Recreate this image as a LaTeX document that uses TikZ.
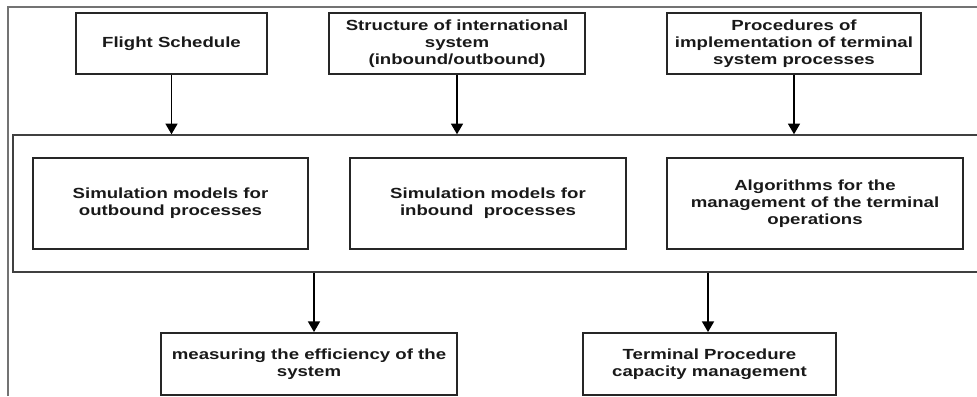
\documentclass[tikz,border=0pt]{standalone}
\usepackage{fontspec}
\setmainfont[FakeStretch=1.27]{Liberation Sans}
\usetikzlibrary{arrows.meta}
\begin{document}
\begin{tikzpicture}[x=0.75pt,y=-0.75pt,
  box/.style={draw=black!85, line width=1.4pt, align=center, inner sep=0pt,
    font=\fontsize{11}{12.75}\selectfont\bfseries, text=black!90},
  bigbox/.style={draw=black!75, line width=1.1pt, inner sep=0pt},
  arr/.style={-{Triangle[length=8pt,width=9pt]}, line width=1.2pt, draw=black}
]
\useasboundingbox (0,0) rectangle (977,396);
\clip (0,0) rectangle (977,396);
% outer frame (top and left edges)
\draw[black!55, line width=0.8pt] (8,396) -- (8,7) -- (990,7);
% big container
\node[bigbox, minimum width=977*0.75pt, minimum height=137*0.75pt] (main) at (501.5,203.5) {};
% top boxes
\node[box, minimum width=191*0.75pt, minimum height=61*0.75pt] (fs) at (171.5,43.5) {Flight Schedule};
\node[box, minimum width=256*0.75pt, minimum height=61*0.75pt] (st) at (457,43.5) {Structure of international\\system\\(inbound/outbound)};
\node[box, minimum width=254*0.75pt, minimum height=61*0.75pt] (pr) at (794,43.5) {Procedures of\\implementation of terminal\\system processes};
% inner boxes
\node[box, minimum width=275*0.75pt, minimum height=91*0.75pt] (so) at (170.5,203.5) {Simulation models for\\outbound processes};
\node[box, minimum width=276*0.75pt, minimum height=91*0.75pt] (si) at (488,203.5) {Simulation models for\\inbound~ processes};
\node[box, minimum width=296*0.75pt, minimum height=91*0.75pt] (al) at (815,203.5) {Algorithms for the\\management of the terminal\\operations};
% bottom boxes
\node[box, minimum width=296*0.75pt, minimum height=62*0.75pt] (me) at (309,364) {measuring the efficiency of the\\system};
\node[box, minimum width=253*0.75pt, minimum height=62*0.75pt] (tp) at (709.5,364) {Terminal Procedure\\capacity management};
% arrows
\draw[arr] (fs.south) -- (fs.south |- main.north);
\draw[arr] (st.south) -- (st.south |- main.north);
\draw[arr] (pr.south) -- (pr.south |- main.north);
\coordinate (c1) at (314,300);
\coordinate (c2) at (708,300);
\draw[arr] (main.south -| c1) -- (me.north -| c1);
\draw[arr] (main.south -| c2) -- (tp.north -| c2);
\end{tikzpicture}
\end{document}
